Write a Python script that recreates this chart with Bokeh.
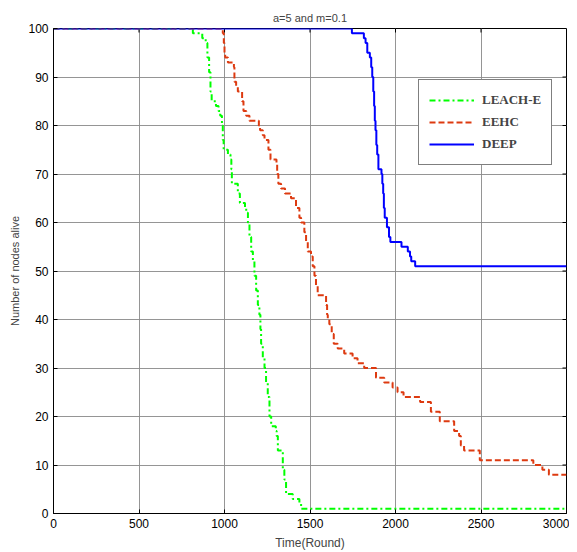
from bokeh.plotting import figure
from bokeh.models import Legend, LegendItem, FixedTicker, Range1d
from bokeh.embed import file_html
from bokeh.resources import INLINE

# LEACH-E (rounds, nodes alive)
leach_r = [0, 815, 870, 890, 900, 910, 918, 925, 950, 965, 975, 985, 990, 995, 1020, 1035, 1040, 1043,
           1078, 1090, 1120, 1127, 1137, 1146, 1156, 1166, 1175, 1185, 1195, 1204, 1210, 1214, 1224, 1234,
           1243, 1253, 1263, 1273, 1300, 1305, 1312, 1341, 1350, 1360, 1399, 1438, 1448, 3000]
leach_n = [100, 99, 98, 97, 94, 91, 87, 85, 84, 83, 82, 80, 77, 75, 74, 73, 71, 68,
           66, 64, 63, 62, 60, 57, 54, 52, 49, 46, 43, 41, 38, 35, 32, 30,
           27, 24, 20, 18, 17, 16, 13, 9, 7, 4, 3, 2, 1, 1]

# EEHC
eehc_r = [0, 990, 996, 1000, 1004, 1020, 1055, 1058, 1068, 1078, 1103, 1111, 1127, 1146, 1201, 1208, 1224,
          1234, 1257, 1269, 1304, 1308, 1315, 1331, 1354, 1389, 1418, 1438, 1448, 1467, 1477, 1487, 1506,
          1516, 1526, 1535, 1545, 1594, 1600, 1604, 1613, 1627, 1639, 1662, 1700, 1749, 1778, 1817, 1886,
          1934, 1983, 2012, 2047, 2144, 2207, 2259, 2343, 2372, 2382, 2401, 2493, 2806, 2859, 2897, 3000]
eehc_n = [100, 99, 97, 95, 94, 93, 92, 89, 88, 87, 85, 83, 82, 81, 80, 79, 78,
          77, 75, 73, 72, 70, 68, 67, 66, 65, 63, 61, 60, 58, 56, 54, 53,
          51, 49, 47, 45, 43, 41, 40, 39, 37, 35, 34, 33, 32, 31, 30, 28,
          27, 26, 25, 24, 23, 21, 19, 17, 16, 14, 13, 11, 10, 9, 8, 8]

# DEEP
deep_r = [0, 1745, 1815, 1825, 1835, 1850, 1858, 1864, 1870, 1875, 1879, 1883, 1888, 1893, 1900, 1918,
          1923, 1928, 1932, 1937, 1950, 1962, 1970, 2035, 2072, 2085, 2092, 2115, 3000]
deep_n = [100, 99, 98, 97, 95, 94, 92, 90, 87, 84, 81, 79, 76, 74, 71, 70,
          68, 66, 63, 61, 59, 57, 56, 55, 54, 53, 52, 51, 51]

x_ticks = [0, 500, 1000, 1500, 2000, 2500, 3000]
y_ticks = [0, 10, 20, 30, 40, 50, 60, 70, 80, 90, 100]

FONT = "Liberation Sans"
X_MAX, Y_MAX = 3000, 100

p = figure(width=569, height=552, output_backend="svg", toolbar_location=None,
           x_range=Range1d(0, X_MAX), y_range=Range1d(0, Y_MAX),
           min_border_left=53, min_border_right=3, min_border_top=28, min_border_bottom=35,
           title="a=5 and m=0.1")
p.title.align = "center"
p.title.text_font = FONT
p.title.text_font_style = "normal"
p.title.text_font_size = "11px"
p.title.standoff = 10

p.outline_line_color = "black"
p.outline_line_width = 1
p.outline_line_alpha = 1

for ax in (p.xaxis[0], p.yaxis[0]):
    ax.major_tick_in = 4
    ax.major_tick_out = 0
    ax.minor_tick_line_color = None
    ax.axis_line_color = "black"
    ax.major_label_text_font = FONT
    ax.major_label_text_font_size = "12px"
    ax.major_label_text_color = "black"
    ax.axis_label_text_font = FONT
    ax.axis_label_text_font_style = "normal"
    ax.axis_label_text_font_size = "11px"

p.xaxis[0].ticker = FixedTicker(ticks=x_ticks)
p.yaxis[0].ticker = FixedTicker(ticks=y_ticks)
p.xaxis[0].axis_label = "Time(Round)"
p.yaxis[0].axis_label = "Number of nodes alive"
p.xaxis[0].axis_label_text_font_size = "12px"
p.xaxis[0].major_label_standoff = 5
p.xaxis[0].axis_label_standoff = 5
p.yaxis[0].major_label_standoff = 5
p.yaxis[0].axis_label_standoff = 4

p.xgrid.ticker = FixedTicker(ticks=x_ticks)
p.ygrid.ticker = FixedTicker(ticks=y_ticks)
for g in (p.xgrid[0], p.ygrid[0]):
    g.grid_line_color = "#8a8a8a"
    g.grid_line_width = 1
    g.grid_line_alpha = 0.9

# mirrored inward ticks on the top and right edges (MATLAB box style)
tx = x_ticks[1:-1]
ty = y_ticks[1:-1]
tick_dx = X_MAX * 4 / 513.0
tick_dy = Y_MAX * 4 / 485.0
p.segment(x0=tx, x1=tx, y0=[Y_MAX] * len(tx), y1=[Y_MAX - tick_dy] * len(tx), line_color="black", line_width=1)
p.segment(x0=[X_MAX] * len(ty), x1=[X_MAX - tick_dx] * len(ty), y0=ty, y1=ty, line_color="black", line_width=1)

r1 = p.step(leach_r, leach_n, mode="after", line_color="#00ff00", line_width=2, line_dash="6 3 2 3")
r2 = p.step(eehc_r, eehc_n, mode="after", line_color="#dd3a10", line_width=2, line_dash="6 3")
r3 = p.step(deep_r, deep_n, mode="after", line_color="#0000ff", line_width=2)

legend = Legend(items=[LegendItem(label="LEACH-E", renderers=[r1]),
                       LegendItem(label="EEHC", renderers=[r2]),
                       LegendItem(label="DEEP", renderers=[r3])],
                location=(365, 348), orientation="vertical")
legend.label_text_font = "Liberation Serif"
legend.label_text_font_style = "bold"
legend.label_text_font_size = "13px"
legend.glyph_width = 45
legend.glyph_height = 20
legend.spacing = 2
legend.padding = 10
legend.label_standoff = 8
legend.border_line_color = "black"
legend.border_line_width = 1
legend.background_fill_color = "white"
legend.background_fill_alpha = 1
p.add_layout(legend, "center")

open("out.html", "w").write(file_html(p, INLINE))
